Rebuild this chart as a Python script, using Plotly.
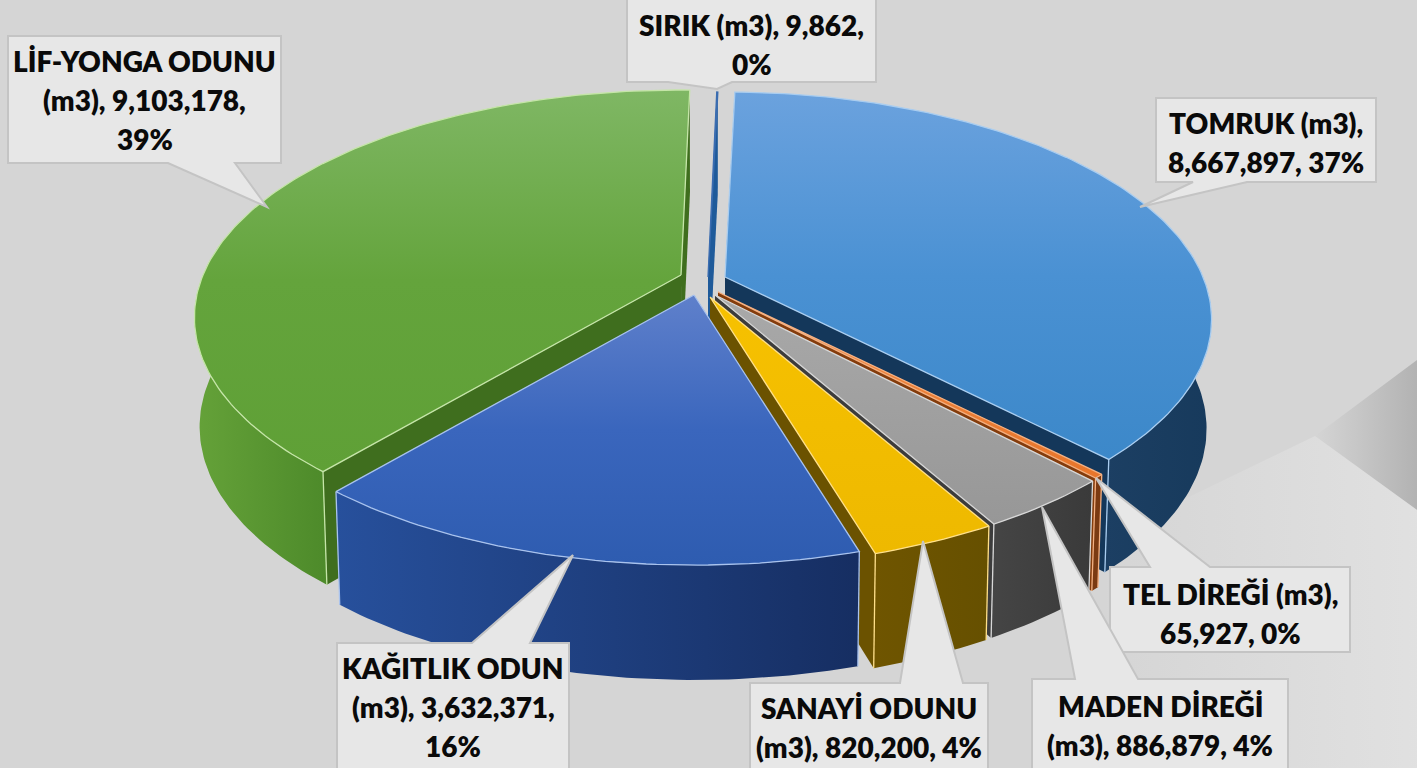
import math
import plotly.graph_objects as go

# ---- data
categories = ["TOMRUK", "TEL DİREĞİ", "MADEN DİREĞİ", "SANAYİ ODUNU", "KAĞITLIK ODUN", "LİF-YONGA ODUNU", "SIRIK"]
values = [8667897, 65927, 886879, 820200, 3632371, 9103178, 9862]
label_templates = [
    "{n} (m3),|{v}, {p}%",
    "{n} (m3),|{v}, {p}%",
    "{n}|(m3), {v}, {p}%",
    "{n}|(m3), {v}, {p}%",
    "{n}|(m3), {v},|{p}%",
    "{n}|(m3), {v},|{p}%",
    "{n} (m3), {v},|{p}%",
]

# ---- styling of each slice: top (lower, middle, upper), wall (left, right), cut face, outline
top_cols = [("#3c88c9", "#4a91d3", "#6ba2de"), ("#e8752a", "#ec8038", "#f08a45"), ("#979797", "#a0a0a0", "#a9a9a9"),
            ("#eeb900", "#f2bd00", "#f7c100"), ("#2e5cb0", "#3a66bd", "#5f80cb"), ("#5fa036", "#64a43c", "#7fb764"),
            ("#1f5a9c", "#275c9d", "#2f5f9e")]
wall_cols = [("#1c3f63", "#173a5c"), ("#7a3a12", "#7a3a12"), ("#454545", "#3a3a3a"), ("#6f5500", "#665000"),
             ("#27509c", "#162e62"), ("#65a239", "#4d8a2a"), ("#1f4e86", "#1f4e86")]
face_cols = ["#14375a", "#843c0c", "#3c3c3c", "#6b5200", "#1f3f80", "#3f6e1e", "#1e5a9a"]
edge_cols = ["#a9cdf0", "#f4b183", "#d8d8d8", "#ffe08a", "#a9c3ee", "#c5e5a8", "#3a6cb0"]
# screen position of each slice's apex (its own explosion)
apex = [(725, 277), (718, 292), (715, 295), (710, 297), (694, 295), (681, 275), (708, 277)]
draw_order = [6, 5, 0, 1, 2, 3, 4]

# ---- pie projection
A, B, K = 478.0, 219.6, 0.187
DEPTH, DEPTH_K, SHRINK, CX = 108.0, 0.06, 0.99, 712.0
START = 1.4
W, H = 1417, 768


def proj(theta, ap, low=False):
    u, v = math.sin(math.radians(theta)), math.cos(math.radians(theta))
    den = 1 + K * v
    x, y = ap[0] + A * u / den, ap[1] - B * v / den
    if low:
        x = CX + (x - CX) * SHRINK
        y += DEPTH / (1 + DEPTH_K * v)
    return x, y


def centre(ap, low=False):
    if low:
        return CX + (ap[0] - CX) * SHRINK, ap[1] + DEPTH
    return ap


def arc(t0, t1, ap, low=False, step=1.0):
    n = max(2, int(abs(t1 - t0) / step) + 1)
    return [proj(t0 + (t1 - t0) * i / (n - 1), ap, low) for i in range(n)]


def poly(fig, pts, grad=None, kind="vertical", color=None, line=None, lw=1):
    xs = [p[0] for p in pts]
    ys = [p[1] for p in pts]
    kw = dict(x=xs, y=ys, mode="lines", hoverinfo="skip", showlegend=False)
    if grad or color:
        kw["fill"] = "toself"
    if grad:
        n = len(grad) - 1
        kw["fillgradient"] = dict(type=kind, colorscale=[[j / n, c] for j, c in enumerate(grad)])
    elif color:
        kw["fillcolor"] = color
    kw["line"] = dict(color=line or "rgba(0,0,0,0)", width=lw if line else 0)
    fig.add_trace(go.Scatter(**kw))


fig = go.Figure()

# background details
poly(fig, [(1315, 436), (1417, 510), (1417, 360)], grad=("rgba(150,150,150,0)", "rgba(150,150,150,0.55)"), kind="horizontal")
poly(fig, [(1315, 436), (1417, 510), (1417, 768), (1100, 768), (1100, 540)],
     grad=("rgba(232,232,232,0)", "rgba(232,232,232,0.6)"), kind="horizontal")

total = sum(values)
angles = [START]
for val in values:
    angles.append(angles[-1] + 360.0 * val / total)

for i in draw_order:
    t0, t1, ap = angles[i], angles[i + 1], apex[i]
    # cut faces
    for t in (t0, t1):
        poly(fig, [centre(ap), proj(t, ap), proj(t, ap, True), centre(ap, True)], color=face_cols[i])
    # outer wall (visible front part only)
    w0, w1 = max(t0, 80.0), min(t1, 280.0)
    if w1 > w0:
        poly(fig, arc(w0, w1, ap) + arc(w1, w0, ap, True), grad=wall_cols[i], kind="horizontal")
        for t in (w0, w1):
            if t in (t0, t1):
                poly(fig, [proj(t, ap), proj(t, ap, True)], line=edge_cols[i], lw=1.3)
    # top
    poly(fig, [centre(ap)] + arc(t0, t1, ap) + [centre(ap)], grad=top_cols[i], line=edge_cols[i], lw=1.3)

# ---- callouts: box (x0, y0, x1, y1), pointer (base, tip, base), side of the box it leaves, centre of text
callouts = [
    ((1156, 98, 1376, 182), [(1193, 182), (1140, 207), (1247, 182)], "bottom", 142),
    ((1110, 567, 1350, 652), [(1150, 567), (1096, 478), (1210, 567)], "top", 613),
    ((1032, 679, 1288, 775), [(1075, 679), (1042, 507), (1138, 679)], "top", 725),
    ((750, 683, 988, 775), [(900, 683), (923, 541), (963, 683)], "top", 727),
    ((337, 643, 569, 775), [(472, 643), (573, 555), (530, 643)], "top", 707),
    ((8, 36, 281, 163), [(168, 163), (267, 207), (235, 163)], "bottom", 100),
    ((627, -5, 876, 82), [(668, 82), (717, 89), (732, 82)], "bottom", 44),
]
LINE_GAP = 39
shapes = []
annotations = []
for i, (box, ptr, side, ymid) in enumerate(callouts):
    x0, y0, x1, y1 = box
    if side == "top":
        seq = [(x0, y0)] + ptr + [(x1, y0), (x1, y1), (x0, y1)]
    else:
        seq = [(x0, y0), (x1, y0), (x1, y1)] + ptr[::-1] + [(x0, y1)]
    path = "M " + " L ".join(f"{x} {y}" for x, y in seq) + " Z"
    shapes.append(dict(type="path", path=path, xref="x", yref="y", fillcolor="#e7e7e7",
                       line=dict(color="#c4c4c4", width=2), layer="above"))
    pct = round(100 * values[i] / total)
    lines = label_templates[i].format(n=categories[i], v=f"{values[i]:,}", p=pct).split("|")
    for j, line in enumerate(lines):
        annotations.append(dict(x=(x0 + x1) / 2, y=ymid + (j - (len(lines) - 1) / 2) * LINE_GAP,
                                xref="x", yref="y", text=line, showarrow=False, align="center",
                                font=dict(family="Lato, 'Open Sans', sans-serif", size=28,
                                          color="#0a0a0a", weight=800)))

fig.update_layout(
    width=W, height=H, margin=dict(l=0, r=0, t=0, b=0),
    paper_bgcolor="#d5d5d5", plot_bgcolor="#d5d5d5",
    xaxis=dict(range=[0, W], visible=False, fixedrange=True),
    yaxis=dict(range=[H, 0], visible=False, fixedrange=True),
    shapes=shapes, annotations=annotations,
)
fig.write_html("out.html", post_script="document.body.style.margin='0';", config={"displayModeBar": False})
